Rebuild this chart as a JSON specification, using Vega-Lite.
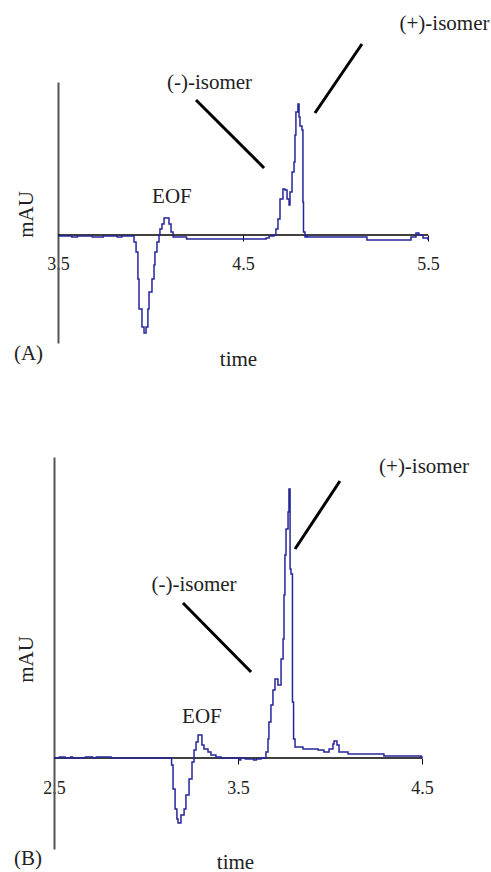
{
  "$schema": "https://vega.github.io/schema/vega-lite/v6.json",
  "background": "white",
  "padding": {"left": 13, "top": 12, "right": 5, "bottom": 0},
  "bounds": "flush",
  "spacing": 114,
  "config": {"view": {"stroke": null}, "axis": {"grid": false}, "text": {"font": "Liberation Serif"}},
  "datasets": {
    "traceA": [
      {"t":3.5,"v":-1},{"t":3.57,"v":-1},{"t":3.575,"v":-2},{"t":3.6,"v":-2},{"t":3.605,"v":-1},{"t":3.68,"v":-1},{"t":3.685,"v":-2},{"t":3.74,"v":-2},{"t":3.745,"v":-1},{"t":3.815,"v":-1},{"t":3.82,"v":-2},{"t":3.84,"v":-2},{"t":3.845,"v":-1},{"t":3.895,"v":-1},{"t":3.911,"v":-7},{"t":3.922,"v":-17},{"t":3.932,"v":-44},{"t":3.938,"v":-74},{"t":3.954,"v":-92},{"t":3.965,"v":-98},{"t":3.976,"v":-92},{"t":3.986,"v":-74},{"t":3.992,"v":-57},{"t":4.008,"v":-44},{"t":4.019,"v":-30},{"t":4.024,"v":-17},{"t":4.035,"v":-7},{"t":4.046,"v":0},{"t":4.051,"v":6},{"t":4.062,"v":11},{"t":4.073,"v":17},{"t":4.095,"v":17},{"t":4.1,"v":11},{"t":4.111,"v":3},{"t":4.122,"v":-2},{"t":4.19,"v":-2},{"t":4.195,"v":-4},{"t":4.62,"v":-4},{"t":4.625,"v":-3},{"t":4.641,"v":-1},{"t":4.668,"v":0},{"t":4.678,"v":6},{"t":4.689,"v":16},{"t":4.7,"v":36},{"t":4.716,"v":46},{"t":4.727,"v":45},{"t":4.738,"v":36},{"t":4.749,"v":30},{"t":4.754,"v":43},{"t":4.765,"v":63},{"t":4.776,"v":73},{"t":4.781,"v":100},{"t":4.786,"v":123},{"t":4.797,"v":131},{"t":4.803,"v":118},{"t":4.808,"v":109},{"t":4.819,"v":105},{"t":4.824,"v":33},{"t":4.827,"v":3},{"t":4.835,"v":-2},{"t":4.845,"v":-1},{"t":4.85,"v":-2},{"t":5.165,"v":-2},{"t":5.17,"v":-5},{"t":5.392,"v":-5},{"t":5.408,"v":-2},{"t":5.435,"v":2},{"t":5.451,"v":0},{"t":5.473,"v":-3},{"t":5.5,"v":-5}
    ],
    "traceB": [
      {"t":2.5,"v":0},{"t":2.53,"v":1},{"t":2.56,"v":0},{"t":2.59,"v":1},{"t":2.6,"v":0},{"t":2.67,"v":1},{"t":2.7,"v":1},{"t":2.71,"v":0},{"t":2.73,"v":1},{"t":2.8,"v":1},{"t":2.81,"v":0},{"t":3.136,"v":0},{"t":3.139,"v":-7},{"t":3.147,"v":-31},{"t":3.158,"v":-51},{"t":3.168,"v":-61},{"t":3.174,"v":-65},{"t":3.19,"v":-57},{"t":3.207,"v":-51},{"t":3.217,"v":-37},{"t":3.234,"v":-21},{"t":3.25,"v":-4},{"t":3.261,"v":8},{"t":3.272,"v":16},{"t":3.283,"v":23},{"t":3.293,"v":23},{"t":3.304,"v":13},{"t":3.315,"v":9},{"t":3.337,"v":6},{"t":3.353,"v":3},{"t":3.38,"v":1},{"t":3.408,"v":0},{"t":3.5,"v":0},{"t":3.505,"v":-2},{"t":3.515,"v":0},{"t":3.54,"v":-1},{"t":3.585,"v":-2},{"t":3.6,"v":-1},{"t":3.625,"v":0},{"t":3.652,"v":6},{"t":3.663,"v":19},{"t":3.668,"v":36},{"t":3.679,"v":53},{"t":3.69,"v":68},{"t":3.701,"v":79},{"t":3.717,"v":73},{"t":3.728,"v":73},{"t":3.734,"v":99},{"t":3.745,"v":119},{"t":3.75,"v":163},{"t":3.755,"v":203},{"t":3.761,"v":229},{"t":3.772,"v":246},{"t":3.777,"v":269},{"t":3.783,"v":189},{"t":3.788,"v":184},{"t":3.796,"v":56},{"t":3.802,"v":19},{"t":3.81,"v":11},{"t":3.853,"v":9},{"t":3.897,"v":9},{"t":3.935,"v":8},{"t":3.967,"v":6},{"t":3.995,"v":9},{"t":4.016,"v":14},{"t":4.022,"v":17},{"t":4.038,"v":13},{"t":4.049,"v":6},{"t":4.098,"v":4},{"t":4.277,"v":4},{"t":4.293,"v":2},{"t":4.37,"v":2},{"t":4.495,"v":1},{"t":4.5,"v":0}
    ],
    "linesA": [
      {"t":4.246,"v":135,"t2":4.614,"v2":67},
      {"t":5.143,"v":191,"t2":4.889,"v2":122}
    ],
    "linesB": [
      {"t":3.201,"v":155,"t2":3.571,"v2":86},
      {"t":4.054,"v":277,"t2":3.81,"v2":209}
    ],
    "labelsA": [
      {"label":"(-)-isomer","t":4.319,"v":152},
      {"label":"(+)-isomer","t":5.589,"v":211},
      {"label":"EOF","t":4.116,"v":38}
    ],
    "labelsB": [
      {"label":"(-)-isomer","t":3.261,"v":173},
      {"label":"(+)-isomer","t":4.511,"v":291},
      {"label":"EOF","t":3.304,"v":41}
    ],
    "panelA": [{"label":"(A)","t":3.262,"v":-119}],
    "panelB": [{"label":"(B)","t":2.283,"v":-101}]
  },
  "vconcat": [
    {
      "width": 374,
      "height": 261,
      "layer": [
        {
          "data": {"values": [{}]},
          "mark": {"type": "rule", "color": "black", "strokeWidth": 1.5},
          "encoding": {
            "x": {"datum": 3.5, "type": "quantitative"},
            "x2": {"datum": 5.5},
            "y": {"datum": 0, "type": "quantitative"}
          }
        },
        {
          "data": {"name": "traceA"},
          "mark": {"type": "line", "color": "#26269a", "strokeWidth": 1.5, "interpolate": "step-after"},
          "encoding": {
            "x": {"field": "t", "type": "quantitative",
              "scale": {"domain": [3.4784, 5.5], "nice": false, "zero": false},
              "axis": {"values": [3.5, 4.5, 5.5], "format": ".1f", "domain": false, "ticks": true, "tickColor": "black", "tickSize": 6,
                "labelFont": "Liberation Serif", "labelFontSize": 18, "labelColor": "#222", "labelBaseline": "alphabetic", "labelPadding": 28,
                "labelFlush": false, "labelOverlap": false, "offset": -108,
                "title": "time", "titleFont": "Liberation Serif", "titleFontSize": 21, "titleFontWeight": "normal", "titleColor": "#222",
                "titleX": 184, "titleY": 130, "titleBaseline": "alphabetic"}},
            "y": {"field": "v", "type": "quantitative",
              "scale": {"domain": [-108, 153], "nice": false, "zero": false},
              "axis": {"domain": true, "domainColor": "#555", "domainWidth": 2, "ticks": false, "labels": false, "offset": -4,
                "title": "mAU", "titleFont": "Liberation Serif", "titleFontSize": 21, "titleFontWeight": "normal", "titleColor": "#222",
                "titleAngle": -90, "titleAlign": "center", "titleBaseline": "middle", "titleX": -32, "titleY": 132}}
          }
        },
        {
          "data": {"name": "linesA"},
          "mark": {"type": "rule", "color": "black", "strokeWidth": 3},
          "encoding": {
            "x": {"field": "t", "type": "quantitative"},
            "y": {"field": "v", "type": "quantitative"},
            "x2": {"field": "t2"},
            "y2": {"field": "v2"}
          }
        },
        {
          "data": {"name": "labelsA"},
          "mark": {"type": "text", "fontSize": 21, "color": "#222", "align": "center", "baseline": "middle"},
          "encoding": {
            "x": {"field": "t", "type": "quantitative"},
            "y": {"field": "v", "type": "quantitative"},
            "text": {"field": "label"}
          }
        },
        {
          "data": {"name": "panelA"},
          "mark": {"type": "text", "fontSize": 21, "color": "#222", "align": "left", "baseline": "middle"},
          "encoding": {
            "x": {"field": "t", "type": "quantitative"},
            "y": {"field": "v", "type": "quantitative"},
            "text": {"field": "label"}
          }
        }
      ]
    },
    {
      "width": 368,
      "height": 392,
      "layer": [
        {
          "data": {"values": [{}]},
          "mark": {"type": "rule", "color": "black", "strokeWidth": 1.5},
          "encoding": {
            "x": {"datum": 2.5, "type": "quantitative"},
            "x2": {"datum": 4.5},
            "y": {"datum": 0, "type": "quantitative"}
          }
        },
        {
          "data": {"name": "traceB"},
          "mark": {"type": "line", "color": "#26269a", "strokeWidth": 1.5, "interpolate": "step-after"},
          "encoding": {
            "x": {"field": "t", "type": "quantitative",
              "scale": {"domain": [2.5, 4.5], "nice": false, "zero": false},
              "axis": {"values": [2.5, 3.5, 4.5], "format": ".1f", "domain": false, "ticks": true, "tickColor": "black", "tickSize": 6,
                "labelFont": "Liberation Serif", "labelFontSize": 18, "labelColor": "#222", "labelBaseline": "alphabetic", "labelPadding": 29,
                "labelFlush": false, "labelOverlap": false, "offset": -91,
                "title": "time", "titleFont": "Liberation Serif", "titleFontSize": 21, "titleFontWeight": "normal", "titleColor": "#222",
                "titleX": 181, "titleY": 110, "titleBaseline": "alphabetic"}},
            "y": {"field": "v", "type": "quantitative",
              "scale": {"domain": [-91, 301], "nice": false, "zero": false},
              "axis": {"domain": true, "domainColor": "#555", "domainWidth": 2, "ticks": false, "labels": false,
                "title": "mAU", "titleFont": "Liberation Serif", "titleFontSize": 21, "titleFontWeight": "normal", "titleColor": "#222",
                "titleAngle": -90, "titleAlign": "center", "titleBaseline": "middle", "titleX": -28, "titleY": 202}}
          }
        },
        {
          "data": {"name": "linesB"},
          "mark": {"type": "rule", "color": "black", "strokeWidth": 3},
          "encoding": {
            "x": {"field": "t", "type": "quantitative"},
            "y": {"field": "v", "type": "quantitative"},
            "x2": {"field": "t2"},
            "y2": {"field": "v2"}
          }
        },
        {
          "data": {"name": "labelsB"},
          "mark": {"type": "text", "fontSize": 21, "color": "#222", "align": "center", "baseline": "middle"},
          "encoding": {
            "x": {"field": "t", "type": "quantitative"},
            "y": {"field": "v", "type": "quantitative"},
            "text": {"field": "label"}
          }
        },
        {
          "data": {"name": "panelB"},
          "mark": {"type": "text", "fontSize": 21, "color": "#222", "align": "left", "baseline": "middle"},
          "encoding": {
            "x": {"field": "t", "type": "quantitative"},
            "y": {"field": "v", "type": "quantitative"},
            "text": {"field": "label"}
          }
        }
      ]
    }
  ]
}
